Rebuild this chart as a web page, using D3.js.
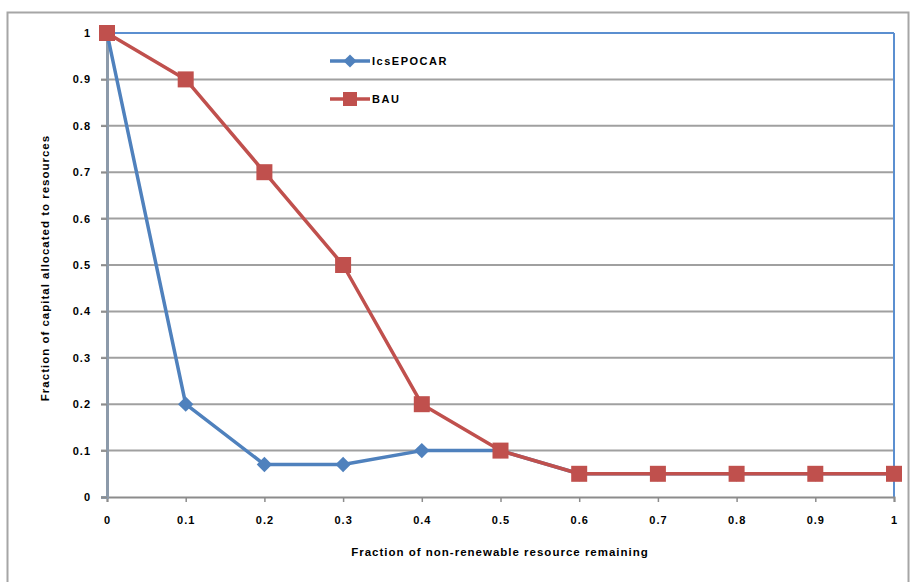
<!DOCTYPE html>
<html>
<head>
<meta charset="utf-8">
<script src="https://cdn.jsdelivr.net/npm/d3@7"></script>
<style>
body { margin: 0; background: #fff; }
text { font-family: "Liberation Sans", Arial, sans-serif; font-weight: bold; fill: #000; }
</style>
</head>
<body>
<div id="chart"></div>
<script>
// values
var xValues = [0, 0.1, 0.2, 0.3, 0.4, 0.5, 0.6, 0.7, 0.8, 0.9, 1];
var epocarValues = [1, 0.2, 0.07, 0.07, 0.1, 0.1, 0.05, 0.05, 0.05, 0.05, 0.05];
var bauValues = [1, 0.9, 0.7, 0.5, 0.2, 0.1, 0.05, 0.05, 0.05, 0.05, 0.05];
var yTicks = [0, 0.1, 0.2, 0.3, 0.4, 0.5, 0.6, 0.7, 0.8, 0.9, 1];
var seriesNames = ["IcsEPOCAR", "BAU"];

var W = 911, H = 582;
var plotLeft = 107, plotRight = 894, plotTop = 33, plotBottom = 497;

var svg = d3.select("#chart").append("svg").attr("width", W).attr("height", H);

// outer chart frame
svg.append("rect").attr("x", 7.5).attr("y", 12.5).attr("width", 901).attr("height", 600)
    .attr("fill", "none").attr("stroke", "#a6a6a6").attr("stroke-width", 2);

var x = d3.scaleLinear().domain([0, 1]).range([plotLeft, plotRight]);
var y = d3.scaleLinear().domain([0, 1]).range([plotBottom, plotTop]);

// gridlines
svg.append("g").selectAll("line").data(yTicks.filter(d => d > 0)).join("line")
    .attr("x1", x(0) - 6).attr("x2", x(1))
    .attr("y1", d => y(d)).attr("y2", d => y(d))
    .attr("stroke", "#a0a0a0").attr("stroke-width", 2);

// plot area border (top / right) in blue
svg.append("line").attr("x1", x(0)).attr("x2", x(1)).attr("y1", y(1)).attr("y2", y(1))
    .attr("stroke", "#5b8fd0").attr("stroke-width", 2);
svg.append("line").attr("x1", x(1)).attr("x2", x(1)).attr("y1", y(1)).attr("y2", y(0))
    .attr("stroke", "#5b8fd0").attr("stroke-width", 2);

// x axis
var xAxis = svg.append("g").attr("transform", "translate(0," + y(0) + ")")
    .call(d3.axisBottom(x).tickValues(xValues).tickSize(5).tickPadding(14).tickFormat(d3.format("")));
xAxis.select(".domain").attr("stroke", "#8c8c8c").attr("stroke-width", 2);
xAxis.selectAll(".tick line").attr("stroke", "#8c8c8c").attr("stroke-width", 1.5);
xAxis.selectAll("text").attr("font-size", 11).style("letter-spacing", "1px");

// y axis
var yAxis = svg.append("g").attr("transform", "translate(" + x(0) + ",0)")
    .call(d3.axisLeft(y).tickValues(yTicks).tickSize(6).tickPadding(10).tickFormat(d3.format("")));
yAxis.select(".domain").attr("stroke", "#8c9aaa").attr("stroke-width", 3);
yAxis.selectAll(".tick line").attr("stroke", "#8c8c8c").attr("stroke-width", 1.5);
yAxis.selectAll("text").attr("font-size", 11).style("letter-spacing", "1px");

// axis titles
svg.append("text").attr("x", 500).attr("y", 556).attr("text-anchor", "middle")
    .attr("font-size", 11.5).style("letter-spacing", "1px")
    .text("Fraction of non-renewable resource remaining");
svg.append("text").attr("transform", "translate(49,268) rotate(-90)").attr("text-anchor", "middle")
    .attr("font-size", 11.5).style("letter-spacing", "1px")
    .text("Fraction of capital allocated to resources");

var line = d3.line().x((d, i) => x(xValues[i])).y(d => y(d));
var blue = "#4f81bd", red = "#c0504d";

// EPOCAR series
svg.append("path").datum(epocarValues).attr("d", line)
    .attr("fill", "none").attr("stroke", blue).attr("stroke-width", 3.5).attr("stroke-linejoin", "round");
svg.append("g").selectAll("path").data(epocarValues).join("path")
    .attr("transform", (d, i) => "translate(" + x(xValues[i]) + "," + y(d) + ")")
    .attr("d", d3.symbol(d3.symbolDiamond2, 150)).attr("fill", blue);

// BAU series
svg.append("path").datum(bauValues).attr("d", line)
    .attr("fill", "none").attr("stroke", red).attr("stroke-width", 3.5).attr("stroke-linejoin", "round");
svg.append("g").selectAll("rect").data(bauValues).join("rect")
    .attr("x", (d, i) => x(xValues[i]) - 8).attr("y", d => y(d) - 8)
    .attr("width", 16).attr("height", 16).attr("fill", red);

// legend
var legend = svg.append("g").attr("transform", "translate(330,61)");
[blue, red].forEach(function (c, i) {
    var g = legend.append("g").attr("transform", "translate(0," + i * 38 + ")");
    g.append("line").attr("x1", 0).attr("x2", 40).attr("stroke", c).attr("stroke-width", 3.5);
    if (i === 0) g.append("path").attr("transform", "translate(20,0)")
        .attr("d", d3.symbol(d3.symbolDiamond2, 110)).attr("fill", c);
    else g.append("rect").attr("x", 13).attr("y", -7).attr("width", 14).attr("height", 14).attr("fill", c);
    g.append("text").attr("x", 42).attr("y", 4).attr("font-size", 11).style("letter-spacing", "1.5px")
        .text(seriesNames[i]);
});
</script>
</body>
</html>
